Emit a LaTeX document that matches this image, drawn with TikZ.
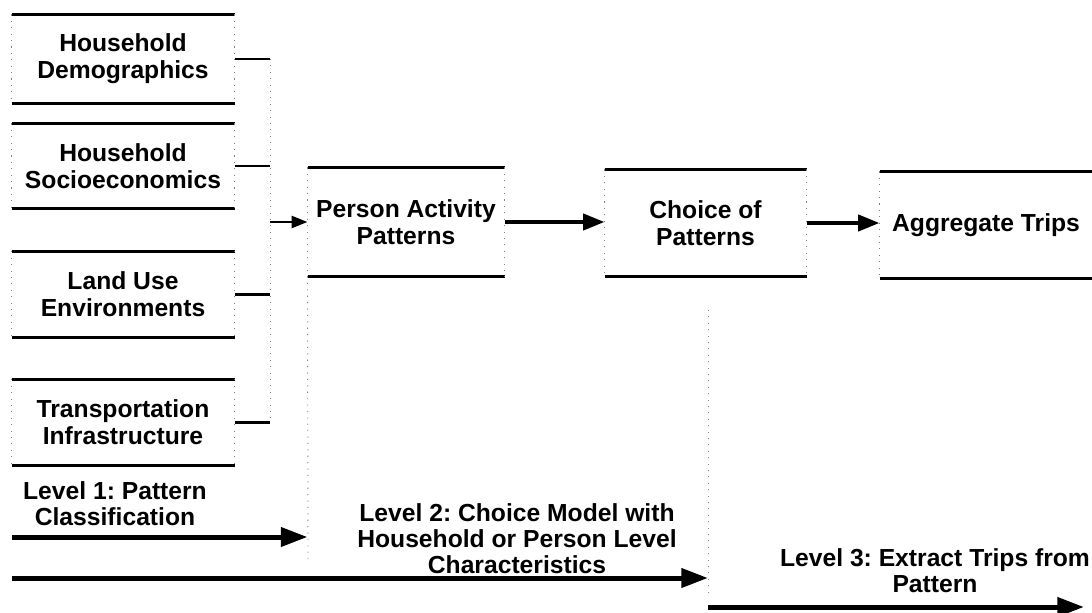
\documentclass[tikz,border=0pt]{standalone}
\usepackage{fontspec}
\setmainfont{Liberation Sans}
\usetikzlibrary{arrows.meta}
\frenchspacing

\tikzset{every picture/.style={line width=0.75pt}}
\tikzset{
  lbl/.style={align=center, inner sep=0.75pt, font=\bfseries\fontsize{18.5}{20.5}\selectfont},
  lvltxt/.style={lbl, font=\bfseries\fontsize{18.5}{19.5}\selectfont},
  rule/.style={line width=2pt},
  side/.style={line width=0.7pt, black!50, dash pattern=on 0.8pt off 4pt},
  flow/.style={line width=3pt, -{Triangle[length=16pt,width=12pt]}},
  feed/.style={line width=2pt, -{Triangle[length=12pt,width=9pt]}},
  lvl/.style={line width=3.75pt, -{Triangle[length=20pt,width=14pt]}},
}

\begin{document}
\begin{tikzpicture}[x=0.75pt,y=0.75pt,yscale=-1,xscale=1]
\useasboundingbox (0,0) rectangle (1092,613);

% Input boxes
\node[lbl, minimum width=166.5pt, minimum height=66pt] (hd) at (123,59) {Household\\Demographics};
\node[lbl, minimum width=166.5pt, minimum height=63pt] (hs) at (123,166) {Household\\Socioeconomics};
\node[lbl, minimum width=166.5pt, minimum height=64pt] (lu) at (123,294.5) {Land Use\\Environments};
\node[lbl, minimum width=166.5pt, minimum height=64pt] (ti) at (123,422.5) {Transportation\\Infrastructure};

% Process boxes
\node[lbl, minimum width=147pt, minimum height=81pt] (pa) at (406,222) {Person Activity\\Patterns};
\node[lbl, minimum width=150.75pt, minimum height=79.5pt] (cp) at (705.5,223) {Choice of\\Patterns};
\node[lbl, minimum width=159pt, minimum height=79.5pt] (at) at (986,225) {Aggregate Trips};

%Box rules
\foreach \b in {hd,hs,lu,ti,pa,cp,at}{
  \draw[rule] (\b.north west) -- (\b.north east);
  \draw[rule] (\b.south west) -- (\b.south east);
}
\foreach \b in {hd,hs,lu,ti,pa,cp}{
  \draw[side] (\b.north west) -- (\b.south west);
  \draw[side] (\b.north east) -- (\b.south east);
}
\draw[side] (at.north west) -- (at.south west);

%Collector
\coordinate (bus) at (270,0);
\foreach \b in {hd,hs,lu,ti}{
  \draw[rule] (\b.east) -- (\b.east -| bus);
}
\draw[side] (hd.east -| bus) -- (ti.east -| bus);
\draw[feed] (pa.west -| bus) -- (pa.west);

%Straight Lines
\draw[flow] (pa.east) -- (pa.east -| cp.west);
\draw[flow] (cp.east) -- (cp.east -| at.west);

%Level borders
\coordinate (b2) at (308,560);
\coordinate (b3t) at (708,310);
\coordinate (b3b) at (708,592);
\draw[side] (pa.south west) -- (b2);
\draw[side] (b3t) -- (b3b);

% Text Node
\node[lvltxt] (lv1) at (115,504) {Level 1: Pattern\\Classification};
% Text Node
\node[lvltxt] (lv2) at (517,539) {Level 2: Choice Model with\\Household or Person Level\\Characteristics};
% Text Node
\node[lvltxt] (lv3) at (935,571) {Level 3: Extract Trips from\\Pattern};

%Level arrows
\coordinate (a1) at (12,537);
\coordinate (a2) at (12,578);
\coordinate (a3) at (1084,607);
\draw[lvl] (a1) -- (a1 -| pa.west);
\draw[lvl] (a2) -- (a2 -| b3t);
\draw[lvl] (a3 -| b3t) -- (a3);

\end{tikzpicture}
\end{document}
